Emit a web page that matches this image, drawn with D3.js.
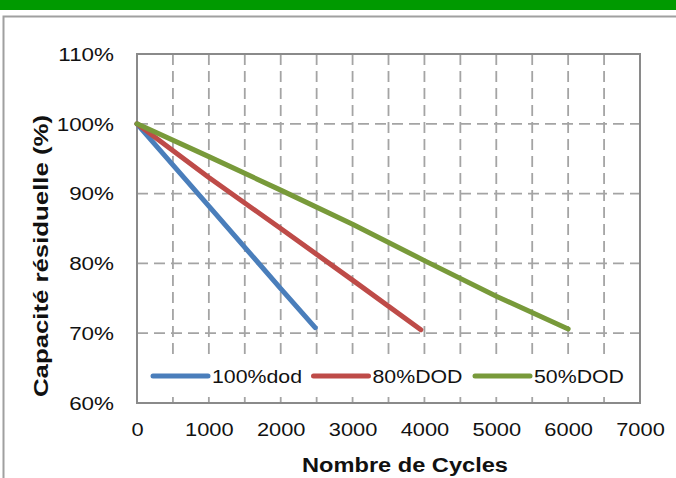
<!DOCTYPE html>
<html>
<head>
<meta charset="utf-8">
<script src="https://cdn.jsdelivr.net/npm/d3@7"></script>
<style>
  body { margin: 0; background: #fff; }
  text { font-family: "Liberation Sans", Arial, sans-serif; fill: #111; }
</style>
</head>
<body>
<svg id="canvas" width="676" height="478"></svg>
<script>
// values
var seriesNames = ['100%dod', '80%DOD', '50%DOD'];
var seriesColors = ['#4a7ebb', '#be4b48', '#789a3a'];

var cycles100 = [0, 1000, 2000, 2480];
var cap100 = [100, 88.2, 76.4, 70.8];

var cycles80 = [0, 1000, 2000, 3000, 3950];
var cap80 = [100, 92.3, 85.0, 77.6, 70.5];

var cycles50 = [0, 1000, 2000, 3000, 4000, 5000, 6000];
var cap50 = [100, 95.3, 90.5, 85.6, 80.4, 75.3, 70.6];

var xTicks = [0, 1000, 2000, 3000, 4000, 5000, 6000, 7000];
var yTicks = [60, 70, 80, 90, 100, 110];

var svg = d3.select('#canvas');

// green banner + outer frame
svg.append('rect').attr('x', 0).attr('y', 0).attr('width', 676).attr('height', 10).attr('fill', '#009a00');
svg.append('path')
  .attr('d', 'M3.5,478 L3.5,16.5 L676,16.5')
  .attr('fill', 'none').attr('stroke', '#a0a0a0').attr('stroke-width', 2);

var x = d3.scaleLinear().domain([0, 7000]).range([137, 640]);
var y = d3.scaleLinear().domain([60, 110]).range([403, 54]);

var g = svg.append('g');

// grid
var vGrid = d3.range(500, 7000, 500);
g.selectAll('.vgrid').data(vGrid).enter().append('line')
  .attr('x1', function(d) { return x(d); }).attr('x2', function(d) { return x(d); })
  .attr('y1', y(110)).attr('y2', y(60))
  .attr('stroke', '#a4a4a4').attr('stroke-width', 1.8).attr('stroke-dasharray', '11,6');

g.selectAll('.hgrid').data([70, 80, 90, 100]).enter().append('line')
  .attr('x1', x(0)).attr('x2', x(7000))
  .attr('y1', function(d) { return y(d); }).attr('y2', function(d) { return y(d); })
  .attr('stroke', '#a4a4a4').attr('stroke-width', 1.8).attr('stroke-dasharray', '11,6');

// plot border
g.append('rect')
  .attr('x', x(0)).attr('y', y(110))
  .attr('width', x(7000) - x(0)).attr('height', y(60) - y(110))
  .attr('fill', 'none').attr('stroke', '#8a8a8a').attr('stroke-width', 2);

// axes (labels only)
var xAxis = g.append('g').attr('transform', 'translate(0,' + y(60) + ')')
  .call(d3.axisBottom(x).tickValues(xTicks).tickSize(0).tickPadding(0).tickFormat(d3.format('d')));
xAxis.select('.domain').remove();
xAxis.selectAll('text')
  .attr('y', 33).attr('dy', 0)
  .attr('font-size', 19).attr('transform', 'scale(1.15,1)')
  .attr('font-family', '"Liberation Sans", Arial, sans-serif').attr('fill', '#111');

var yAxis = g.append('g').attr('transform', 'translate(' + x(0) + ',0)')
  .call(d3.axisLeft(y).tickValues(yTicks).tickSize(0).tickFormat(function(d) { return d + '%'; }));
yAxis.select('.domain').remove();
yAxis.selectAll('text')
  .attr('x', -23 / 1.18).attr('dy', '0.33em')
  .attr('font-size', 19).attr('transform', 'scale(1.18,1)')
  .attr('font-family', '"Liberation Sans", Arial, sans-serif').attr('fill', '#111');

// series
var series = [
  { name: seriesNames[0], color: seriesColors[0], xs: cycles100, ys: cap100 },
  { name: seriesNames[1], color: seriesColors[1], xs: cycles80, ys: cap80 },
  { name: seriesNames[2], color: seriesColors[2], xs: cycles50, ys: cap50 }
];

var line = d3.line()
  .x(function(d) { return x(d[0]); })
  .y(function(d) { return y(d[1]); });

series.forEach(function(s) {
  var pts = s.xs.map(function(c, i) { return [c, s.ys[i]]; });
  g.append('path')
    .attr('d', line(pts))
    .attr('fill', 'none').attr('stroke', s.color)
    .attr('stroke-width', 5).attr('stroke-linecap', 'round').attr('stroke-linejoin', 'round');
});

// legend
var legend = g.append('g');
legend.append('rect')
  .attr('x', 143).attr('y', 357).attr('width', 488).attr('height', 40).attr('fill', '#fff');
var legX = [153, 313.5, 475];
series.forEach(function(s, i) {
  legend.append('line')
    .attr('x1', legX[i]).attr('x2', legX[i] + 55)
    .attr('y1', 376).attr('y2', 376)
    .attr('stroke', s.color).attr('stroke-width', 5).attr('stroke-linecap', 'round');
  legend.append('text')
    .attr('x', legX[i] + 59).attr('y', 383)
    .attr('font-size', 19)
    .attr('textLength', 90).attr('lengthAdjust', 'spacingAndGlyphs')
    .text(s.name);
});

// axis titles
svg.append('text')
  .attr('x', 405).attr('y', 472)
  .attr('text-anchor', 'middle').attr('font-size', 20).attr('font-weight', 'bold')
  .attr('textLength', 206).attr('lengthAdjust', 'spacingAndGlyphs')
  .text('Nombre de Cycles');

svg.append('text')
  .attr('transform', 'translate(48,256) rotate(-90)')
  .attr('text-anchor', 'middle').attr('font-size', 20).attr('font-weight', 'bold')
  .attr('textLength', 282).attr('lengthAdjust', 'spacingAndGlyphs')
  .text('Capacité résiduelle (%)');
</script>
</body>
</html>
